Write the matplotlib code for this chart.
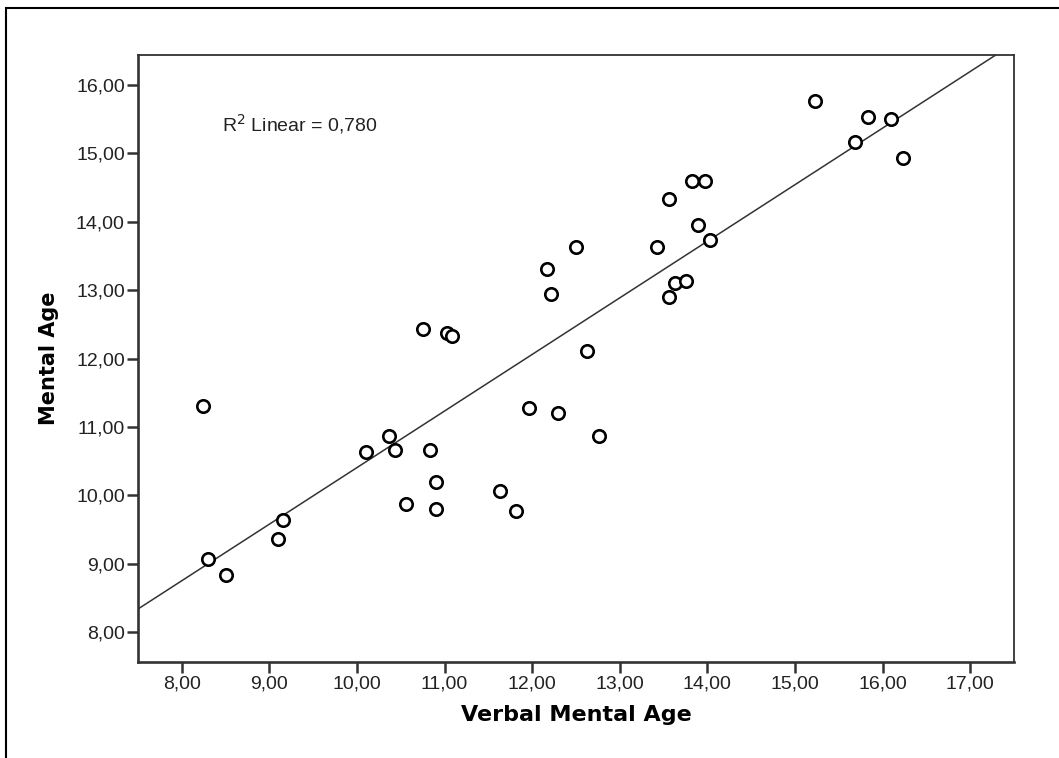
import numpy as np
import matplotlib
matplotlib.use("Agg")
import matplotlib.pyplot as plt
from matplotlib.patches import Rectangle

# Valeurs
verbal_age = [8.24, 8.30, 8.50, 9.10, 9.15, 10.10, 10.36, 10.43, 10.56, 10.75,
              10.83, 10.90, 10.90, 11.03, 11.09, 11.63, 11.82, 11.96, 12.17, 12.22,
              12.29, 12.50, 12.62, 12.76, 13.42, 13.56, 13.56, 13.63, 13.76, 13.82,
              13.89, 13.97, 14.03, 15.23, 15.69, 15.83, 16.10, 16.23]
mental_age = [11.30, 9.07, 8.83, 9.36, 9.64, 10.63, 10.87, 10.66, 9.87, 12.43,
              10.66, 10.19, 9.80, 12.37, 12.33, 10.06, 9.77, 11.27, 13.31, 12.94,
              11.20, 13.63, 12.11, 10.87, 13.63, 14.33, 12.90, 13.10, 13.13, 14.59,
              13.96, 14.59, 13.73, 15.76, 15.16, 15.53, 15.50, 14.93]
x_ticks = [8, 9, 10, 11, 12, 13, 14, 15, 16, 17]
y_ticks = [8, 9, 10, 11, 12, 13, 14, 15, 16]
r2_text = "R$^2$ Linear = 0,780"

def comma(v):
    return f"{v:.2f}".replace(".", ",")

fig = plt.figure(figsize=(10.59, 7.58), dpi=100)
ax = fig.add_axes([138/1059, 1 - 662/758, (1014-138)/1059, (662-55)/758])

xlim = (7.5, 17.5)
ylim = (7.56, 16.44)

# droite de régression
slope, inter = np.polyfit(verbal_age, mental_age, 1)
xl = np.array(xlim)
ax.plot(xl, inter + slope * xl, color="#333333", lw=1.1, zorder=2)

ax.scatter(verbal_age, mental_age, s=80, facecolors="white", edgecolors="black",
           linewidths=1.9, zorder=3)

ax.set_xlim(xlim)
ax.set_ylim(ylim)
ax.set_xticks(x_ticks)
ax.set_yticks(y_ticks)
ax.set_xticklabels([comma(v) for v in x_ticks], fontsize=14, family="Liberation Sans", color="#222222")
ax.set_yticklabels([comma(v) for v in y_ticks], fontsize=14, family="Liberation Sans", color="#222222")
ax.tick_params(direction="out", length=8, width=1.8, color="#333333", pad=1.5)

for side in ["left", "bottom"]:
    ax.spines[side].set_linewidth(1.9)
    ax.spines[side].set_color("#333333")
for side in ["top", "right"]:
    ax.spines[side].set_linewidth(1.3)
    ax.spines[side].set_color("#333333")

ax.set_xlabel("Verbal Mental Age", fontsize=16, fontweight="bold", family="DejaVu Sans", labelpad=9)
ax.set_ylabel("Mental Age", fontsize=15, fontweight="bold", family="DejaVu Sans", labelpad=12)

ax.text(8.46, 15.43, r2_text, fontsize=14, family="Liberation Sans", va="center", ha="left",
        color="#222222")

# cadre extérieur
fig.add_artist(Rectangle((6/1059, -0.2), 1.2, 1 - 8/758 + 0.2, transform=fig.transFigure,
                         fill=False, edgecolor="black", lw=1.5, clip_on=False))

fig.savefig("out.png", dpi=100)
